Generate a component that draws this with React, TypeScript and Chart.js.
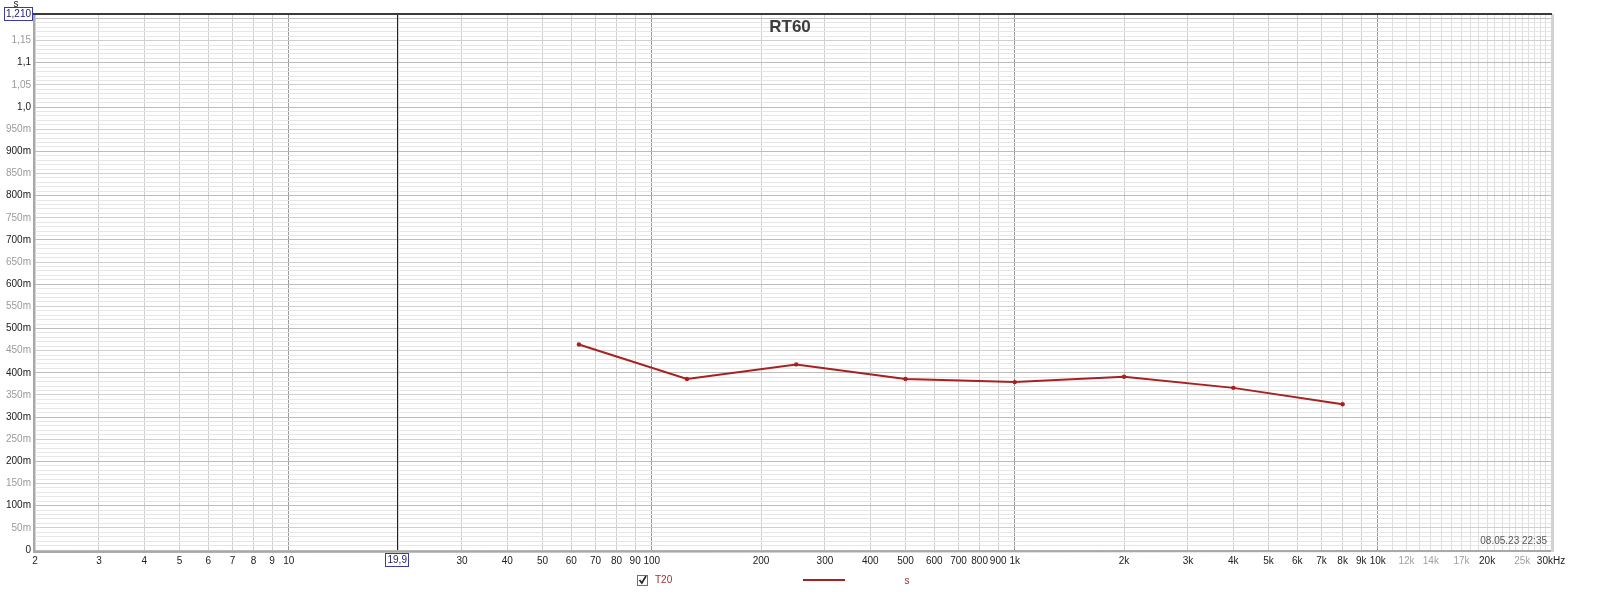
import React, { useEffect, useRef } from 'react';
import { Chart, registerables } from 'chart.js';

Chart.register(...registerables);

// ---- data ----
const frequencies = [63, 125, 250, 500, 1000, 2000, 4000, 8000];
const t20Values = [0.464, 0.386, 0.419, 0.386, 0.379, 0.391, 0.366, 0.329];

const xTickValues = [
  2, 3, 4, 5, 6, 7, 8, 9, 10,
  20, 30, 40, 50, 60, 70, 80, 90, 100,
  200, 300, 400, 500, 600, 700, 800, 900, 1000,
  2000, 3000, 4000, 5000, 6000, 7000, 8000, 9000, 10000,
  12000, 14000, 17000, 20000, 25000, 30000,
];
const xTickLabels = [
  '2', '3', '4', '5', '6', '7', '8', '9', '10',
  '20', '30', '40', '50', '60', '70', '80', '90', '100',
  '200', '300', '400', '500', '600', '700', '800', '900', '1k',
  '2k', '3k', '4k', '5k', '6k', '7k', '8k', '9k', '10k',
  '12k', '14k', '17k', '20k', '25k', '30kHz',
];
const xGrayLabels = ['12k', '14k', '17k', '25k'];
const xGridValues = [
  2, 3, 4, 5, 6, 7, 8, 9, 10,
  20, 30, 40, 50, 60, 70, 80, 90, 100,
  200, 300, 400, 500, 600, 700, 800, 900, 1000,
  2000, 3000, 4000, 5000, 6000, 7000, 8000, 9000, 10000,
  11000, 12000, 13000, 14000, 15000, 16000, 17000, 18000, 19000, 20000,
  21000, 22000, 23000, 24000, 25000, 26000, 27000, 28000, 29000, 30000,
];
const xDecades = [10, 100, 1000, 10000];

const yTickValues = [
  0, 0.05, 0.1, 0.15, 0.2, 0.25, 0.3, 0.35, 0.4, 0.45, 0.5, 0.55,
  0.6, 0.65, 0.7, 0.75, 0.8, 0.85, 0.9, 0.95, 1.0, 1.05, 1.1, 1.15,
];
const yTickLabels = [
  '0', '50m', '100m', '150m', '200m', '250m', '300m', '350m', '400m', '450m', '500m', '550m',
  '600m', '650m', '700m', '750m', '800m', '850m', '900m', '950m', '1,0', '1,05', '1,1', '1,15',
];
const yMinorStep = 0.01;
const yMax = 1.21;
const yMaxLabel = '1,210';
const yUnit = 's';

const cursorFreq = 19.9;
const cursorLabel = '19,9';
const chartTitle = 'RT60';
const timestamp = '08.05.23 22:35';
const legendName = 'T20';
const legendUnit = 's';

const lineColor = '#a82020';
const FONT = '"Liberation Sans", Arial, sans-serif';

export default function App() {
  const ref = useRef<HTMLCanvasElement | null>(null);

  useEffect(() => {
    const canvas = ref.current;
    if (!canvas) return;

    const xLabelMap = new Map<number, string>();
    xTickValues.forEach((v, i) => xLabelMap.set(v, xTickLabels[i]));
    const yLabelMap = new Map<number, string>();
    yTickValues.forEach((v, i) => yLabelMap.set(Math.round(v * 100), yTickLabels[i]));

    const decorations = {
      id: 'rewDecor',
      beforeDatasetsDraw(chart: any) {
        const { ctx, chartArea } = chart;
        const xs = chart.scales.x;
        const cx = Math.round(xs.getPixelForValue(cursorFreq)) + 0.5;
        ctx.save();
        ctx.strokeStyle = '#202020';
        ctx.lineWidth = 1;
        ctx.beginPath();
        ctx.moveTo(cx, chartArea.top);
        ctx.lineTo(cx, chartArea.bottom);
        ctx.stroke();
        ctx.restore();
      },
      afterDraw(chart: any) {
        const { ctx, chartArea } = chart;
        const xs = chart.scales.x;
        const ys = chart.scales.y;
        ctx.save();
        // frame
        ctx.lineWidth = 2;
        ctx.strokeStyle = '#a8a8a8';
        ctx.beginPath();
        ctx.moveTo(chartArea.left - 1, chartArea.top);
        ctx.lineTo(chartArea.left - 1, chartArea.bottom + 2);
        ctx.lineTo(chartArea.right, chartArea.bottom + 1);
        ctx.stroke();
        ctx.lineWidth = 3;
        ctx.strokeStyle = '#d2d2d2';
        ctx.beginPath();
        ctx.moveTo(chartArea.right + 1.5, chartArea.top);
        ctx.lineTo(chartArea.right + 1.5, chartArea.bottom + 2);
        ctx.stroke();
        // top horizontal cursor at yMax
        const ty = ys.getPixelForValue(yMax);
        ctx.lineWidth = 2;
        ctx.strokeStyle = '#3a3a3a';
        ctx.beginPath();
        ctx.moveTo(chartArea.left - 2, ty);
        ctx.lineTo(chartArea.right + 1, ty);
        ctx.stroke();

        // unit 's'
        ctx.font = `10px ${FONT}`;
        ctx.fillStyle = '#202020';
        ctx.textAlign = 'center';
        ctx.textBaseline = 'middle';
        ctx.fillText(yUnit, 16, ty - 10);

        // y cursor box
        ctx.font = `10px ${FONT}`;
        const bw = 29, bh = 14;
        const bx = chartArea.left - 31;
        ctx.fillStyle = '#ffffff';
        ctx.fillRect(bx, ty - bh / 2, bw, bh);
        ctx.strokeStyle = '#3a3aa0';
        ctx.lineWidth = 1;
        ctx.strokeRect(bx + 0.5, ty - bh / 2 + 0.5, bw - 1, bh - 1);
        ctx.fillStyle = '#1c1c6c';
        ctx.fillText(yMaxLabel, bx + bw / 2, ty + 0.5);

        // x cursor box
        const cx = xs.getPixelForValue(cursorFreq);
        const cbw = 24, cbh = 14;
        const cby = chartArea.bottom + 3;
        ctx.fillStyle = '#ffffff';
        ctx.fillRect(cx - cbw / 2, cby, cbw, cbh);
        ctx.strokeStyle = '#3a3aa0';
        ctx.strokeRect(Math.round(cx - cbw / 2) + 0.5, cby + 0.5, cbw - 1, cbh - 1);
        ctx.fillStyle = '#1c1c6c';
        ctx.fillText(cursorLabel, cx, cby + cbh / 2 + 0.5);

        // title
        ctx.font = `bold 17px ${FONT}`;
        ctx.fillStyle = '#3c3c3c';
        ctx.fillText(chartTitle, (chartArea.left + chartArea.right) / 2 - 3, chartArea.top + 13);

        // timestamp
        ctx.font = `10px ${FONT}`;
        ctx.fillStyle = '#555555';
        ctx.textAlign = 'right';
        ctx.fillText(timestamp, chartArea.right - 4, chartArea.bottom - 9);

        // legend
        const ly = 580;
        ctx.fillStyle = '#ffffff';
        ctx.fillRect(637, ly - 5, 11, 11);
        ctx.strokeStyle = '#707070';
        ctx.lineWidth = 1;
        ctx.strokeRect(637.5, ly - 4.5, 10, 10);
        ctx.strokeStyle = '#202020';
        ctx.lineWidth = 1.6;
        ctx.beginPath();
        ctx.moveTo(639.5, ly);
        ctx.lineTo(641.8, ly + 3);
        ctx.lineTo(646, ly - 4);
        ctx.stroke();
        ctx.font = `10px ${FONT}`;
        ctx.textAlign = 'left';
        ctx.fillStyle = '#a03030';
        ctx.fillText(legendName, 655, ly + 0.5);
        ctx.strokeStyle = lineColor;
        ctx.lineWidth = 2;
        ctx.beginPath();
        ctx.moveTo(803, ly);
        ctx.lineTo(845, ly);
        ctx.stroke();
        ctx.textAlign = 'center';
        ctx.fillText(legendUnit, 907, ly + 1);
        ctx.restore();
      },
    };

    const chart = new Chart(canvas, {
      type: 'line',
      data: {
        datasets: [
          {
            label: legendName,
            data: frequencies.map((f, i) => ({ x: f, y: t20Values[i] })),
            borderColor: lineColor,
            backgroundColor: lineColor,
            borderWidth: 2,
            pointRadius: 2.2,
            pointHoverRadius: 2.2,
            pointBorderWidth: 0,
            tension: 0,
          },
        ],
      },
      options: {
        animation: false,
        responsive: false,
        devicePixelRatio: 1,
        events: [],
        layout: { padding: { left: 0, top: 14, right: 49, bottom: 0 } },
        plugins: {
          legend: { display: false },
          title: { display: false },
          tooltip: { enabled: false },
        },
        scales: {
          x: {
            type: 'logarithmic',
            min: 2,
            max: 30000,
            z: 0,
            border: { display: false },
            afterBuildTicks(scale: any) {
              scale.ticks = xGridValues.map((v) => ({ value: v }));
            },
            afterFit(scale: any) {
              scale.height = 54;
              scale.paddingLeft = 0;
              scale.paddingRight = 0;
            },
            grid: {
              drawTicks: false,
              lineWidth: 1,
              color: (ctx: any) => {
                const v = ctx.tick ? ctx.tick.value : 0;
                if (xDecades.includes(v)) return '#9a9a9a';
                if (v > 10000) return '#dedede';
                return '#d0d0d0';
              },
            },
            ticks: {
              autoSkip: false,
              maxRotation: 0,
              minRotation: 0,
              padding: 5,
              font: { family: FONT, size: 10 },
              color: (ctx: any) => {
                const lbl = xLabelMap.get(ctx.tick ? ctx.tick.value : -1) || '';
                return xGrayLabels.includes(lbl) ? '#a0a0a0' : '#202020';
              },
              callback: (value: any) => xLabelMap.get(Number(value)) || '',
            },
          },
          y: {
            type: 'linear',
            min: 0,
            max: yMax,
            z: -1,
            border: { display: false },
            afterBuildTicks(scale: any) {
              const n = Math.round(yMax / yMinorStep);
              const t: any[] = [];
              for (let i = 0; i <= n; i++) t.push({ value: i * yMinorStep });
              scale.ticks = t;
            },
            afterFit(scale: any) {
              scale.width = 35;
              scale.paddingTop = 0;
              scale.paddingBottom = 0;
            },
            grid: {
              drawTicks: false,
              lineWidth: 1,
              color: (ctx: any) => {
                const i = ctx.tick ? Math.round(ctx.tick.value * 100) : 0;
                if (i % 10 === 0) return '#bcbcbc';
                if (i % 5 === 0) return '#cfcfcf';
                return '#e6e6e6';
              },
            },
            ticks: {
              autoSkip: false,
              padding: 4,
              font: { family: FONT, size: 10 },
              color: (ctx: any) => {
                const i = ctx.tick ? Math.round(ctx.tick.value * 100) : 0;
                return i % 10 === 0 ? '#202020' : '#9a9a9a';
              },
              callback: (value: any) => yLabelMap.get(Math.round(Number(value) * 100)) || '',
            },
          },
        },
      },
      plugins: [decorations],
    });

    return () => chart.destroy();
  }, []);

  return (
    <div style={{ position: 'absolute', left: 0, top: 0, width: 1600, height: 604, background: '#ffffff' }}>
      <canvas ref={ref} width={1600} height={604} style={{ display: 'block', width: 1600, height: 604 }} />
    </div>
  );
}
